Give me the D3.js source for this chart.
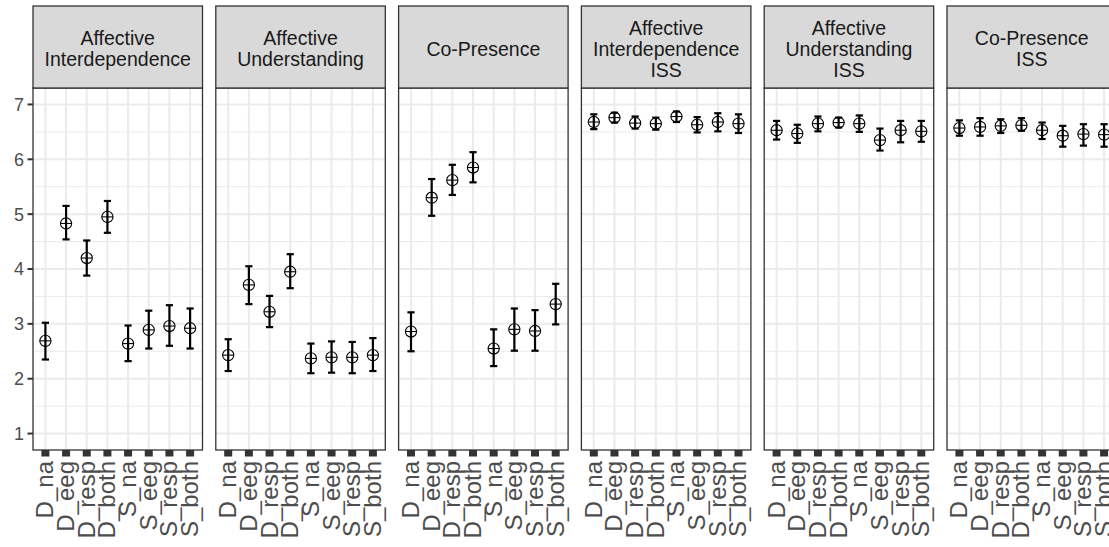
<!DOCTYPE html>
<html>
<head>
<meta charset="utf-8">
<script src="https://cdn.jsdelivr.net/npm/d3@7"></script>
<style>
  body { margin: 0; background: #fff; }
  text { font-family: "Liberation Sans", Arial, sans-serif; }
</style>
</head>
<body>
<svg width="1109" height="547"></svg>
<script>
// categories on x and facet panels
const categories = ["D_na", "D_eeg", "D_resp", "D_both", "S_na", "S_eeg", "S_resp", "S_both"];
const facets = [
  ["Affective", "Interdependence"],
  ["Affective", "Understanding"],
  ["Co-Presence"],
  ["Affective", "Interdependence", "ISS"],
  ["Affective", "Understanding", "ISS"],
  ["Co-Presence", "ISS"]
];
const yTicks = [1, 2, 3, 4, 5, 6, 7];

// means, lower and upper error bounds per facet
const means = [
  [2.69, 4.83, 4.20, 4.95, 2.64, 2.89, 2.96, 2.92],
  [2.43, 3.71, 3.22, 3.95, 2.37, 2.39, 2.39, 2.43],
  [2.86, 5.30, 5.62, 5.85, 2.55, 2.90, 2.87, 3.36],
  [6.68, 6.76, 6.66, 6.65, 6.78, 6.63, 6.68, 6.65],
  [6.53, 6.47, 6.65, 6.67, 6.65, 6.35, 6.53, 6.51],
  [6.57, 6.59, 6.61, 6.62, 6.53, 6.43, 6.46, 6.45]
];
const lower = [
  [2.35, 4.54, 3.88, 4.66, 2.32, 2.55, 2.60, 2.55],
  [2.14, 3.36, 2.94, 3.65, 2.10, 2.11, 2.10, 2.14],
  [2.50, 4.97, 5.35, 5.58, 2.23, 2.51, 2.51, 2.99],
  [6.55, 6.67, 6.56, 6.54, 6.68, 6.49, 6.51, 6.48],
  [6.36, 6.30, 6.51, 6.58, 6.50, 6.16, 6.31, 6.32],
  [6.43, 6.43, 6.48, 6.52, 6.37, 6.23, 6.25, 6.23]
];
const upper = [
  [3.02, 5.15, 4.52, 5.24, 2.97, 3.24, 3.34, 3.28],
  [2.72, 4.05, 3.51, 4.27, 2.64, 2.68, 2.67, 2.74],
  [3.21, 5.64, 5.90, 6.13, 2.90, 3.28, 3.25, 3.73],
  [6.82, 6.85, 6.78, 6.76, 6.87, 6.77, 6.84, 6.82],
  [6.70, 6.63, 6.78, 6.76, 6.80, 6.56, 6.70, 6.70],
  [6.71, 6.75, 6.73, 6.75, 6.67, 6.61, 6.64, 6.64]
];

const svg = d3.select("svg");

// layout
const stripTop = 6, panelTop = 88, panelBottom = 450;
const left = 33, panelW = 169.5, gap = 13.3;

const fx = d3.scaleBand()
  .domain(d3.range(facets.length))
  .range([left, left + facets.length * panelW + (facets.length - 1) * gap])
  .paddingInner(gap / (panelW + gap))
  .paddingOuter(0);

const x = d3.scalePoint().domain(categories).range([0, fx.bandwidth()]).padding(0.6);
const y = d3.scaleLinear().domain([0.7, 7.3]).range([panelBottom, panelTop]);

// y axis labels and ticks
const yAxis = svg.append("g");
yAxis.selectAll("line").data(yTicks).enter().append("line")
  .attr("x1", left - 5.5).attr("x2", left)
  .attr("y1", d => y(d)).attr("y2", d => y(d))
  .attr("stroke", "#333").attr("stroke-width", 2);
yAxis.selectAll("text").data(yTicks).enter().append("text")
  .attr("x", left - 9).attr("y", d => y(d))
  .attr("dy", "0.36em")
  .attr("text-anchor", "end")
  .attr("font-size", 18)
  .attr("fill", "#4D4D4D")
  .text(d => d);

facets.forEach((lines, f) => {
  const g = svg.append("g").attr("transform", `translate(${fx(f)},0)`);
  const w = fx.bandwidth();

  // panel background + grid
  g.append("rect").attr("x", 0).attr("y", panelTop).attr("width", w)
    .attr("height", panelBottom - panelTop).attr("fill", "#fff");

  const minor = d3.range(0.5, 7.6, 1).filter(v => v > 0.7 && v < 7.3);
  g.selectAll("line.minor").data(minor).enter().append("line")
    .attr("class", "minor")
    .attr("x1", 0).attr("x2", w)
    .attr("y1", d => y(d)).attr("y2", d => y(d))
    .attr("stroke", "#EBEBEB").attr("stroke-width", 1);
  g.selectAll("line.hmajor").data(yTicks).enter().append("line")
    .attr("class", "hmajor")
    .attr("x1", 0).attr("x2", w)
    .attr("y1", d => y(d)).attr("y2", d => y(d))
    .attr("stroke", "#EBEBEB").attr("stroke-width", 2);
  g.selectAll("line.vmajor").data(categories).enter().append("line")
    .attr("class", "vmajor")
    .attr("x1", d => x(d)).attr("x2", d => x(d))
    .attr("y1", panelTop).attr("y2", panelBottom)
    .attr("stroke", "#EBEBEB").attr("stroke-width", 2);

  // error bars
  const rows = categories.map((c, i) => ({ c, m: means[f][i], lo: lower[f][i], hi: upper[f][i] }));
  const eb = g.selectAll("g.eb").data(rows).enter().append("g").attr("class", "eb");
  const capW = 3.6;
  eb.append("line")
    .attr("x1", d => x(d.c)).attr("x2", d => x(d.c))
    .attr("y1", d => y(d.lo)).attr("y2", d => y(d.hi))
    .attr("stroke", "#000").attr("stroke-width", 2.2);
  eb.append("line")
    .attr("x1", d => x(d.c) - capW).attr("x2", d => x(d.c) + capW)
    .attr("y1", d => y(d.lo)).attr("y2", d => y(d.lo))
    .attr("stroke", "#000").attr("stroke-width", 2.2);
  eb.append("line")
    .attr("x1", d => x(d.c) - capW).attr("x2", d => x(d.c) + capW)
    .attr("y1", d => y(d.hi)).attr("y2", d => y(d.hi))
    .attr("stroke", "#000").attr("stroke-width", 2.2);

  // circle-plus points
  const r = 5.6;
  eb.append("circle")
    .attr("cx", d => x(d.c)).attr("cy", d => y(d.m)).attr("r", r)
    .attr("fill", "none").attr("stroke", "#000").attr("stroke-width", 1.1);
  eb.append("line")
    .attr("x1", d => x(d.c) - r).attr("x2", d => x(d.c) + r)
    .attr("y1", d => y(d.m)).attr("y2", d => y(d.m))
    .attr("stroke", "#000").attr("stroke-width", 1.1);

  // panel border
  g.append("rect").attr("x", 0).attr("y", panelTop).attr("width", w)
    .attr("height", panelBottom - panelTop)
    .attr("fill", "none").attr("stroke", "#333").attr("stroke-width", 1.3);

  // strip
  g.append("rect").attr("x", 0).attr("y", stripTop).attr("width", w)
    .attr("height", panelTop - stripTop)
    .attr("fill", "#D9D9D9").attr("stroke", "#333").attr("stroke-width", 1.3);
  const mid = (stripTop + panelTop) / 2 + 8.5;
  g.selectAll("text.strip").data(lines).enter().append("text")
    .attr("class", "strip")
    .attr("x", w / 2)
    .attr("y", (d, i) => mid + (i - (lines.length - 1) / 2) * 21)
    .attr("text-anchor", "middle")
    .attr("font-size", 19.5)
    .attr("fill", "#1A1A1A")
    .text(d => d);

  // x ticks (thick squares) and rotated labels
  g.selectAll("line.xt").data(categories).enter().append("line")
    .attr("class", "xt")
    .attr("x1", d => x(d)).attr("x2", d => x(d))
    .attr("y1", panelBottom).attr("y2", panelBottom + 6.5)
    .attr("stroke", "#333").attr("stroke-width", 8);
  g.selectAll("text.xl").data(categories).enter().append("text")
    .attr("class", "xl")
    .attr("transform", d => `translate(${x(d) + 8},${panelBottom + 11}) rotate(-90)`)
    .attr("text-anchor", "end")
    .attr("font-size", 24)
    .attr("fill", "#4D4D4D")
    .text(d => d);
});
</script>
</body>
</html>
